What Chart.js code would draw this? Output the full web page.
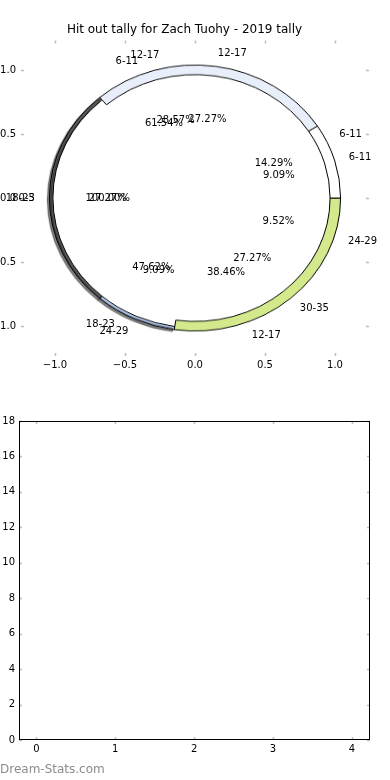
<!DOCTYPE html>
<html>
<head>
<meta charset="utf-8">
<script src="https://cdn.jsdelivr.net/npm/chart.js@4.4.0/dist/chart.umd.min.js"></script>
<style>
  body { margin: 0; background: #fff; width: 390px; height: 780px; overflow: hidden; position: relative; }
  #pieChart { position: absolute; left: 0; top: 0; z-index: 2; }
  #ringWrap { position: absolute; z-index: 1; transform-origin: 50% 50%; }
  #ringWrap canvas { position: absolute; left: 0; top: 0; }
  #barChart { position: absolute; left: 0; top: 390px; }
  #credit { position: absolute; left: 0; top: 762px; font: 12px "DejaVu Sans"; color: #8c8c8c; }
</style>
</head>
<body>
<canvas id="pieChart" width="390" height="390"></canvas>
<div id="ringWrap">
  <canvas id="ringLow"></canvas>
  <canvas id="ringTop"></canvas>
</div>
<canvas id="barChart" width="390" height="390"></canvas>
<div id="credit">Dream-Stats.com</div>

<script>
const chartTitle = "Hit out tally for Zach Tuohy - 2019 tally";

// pies drawn on top of each other (minute ranges -> hit outs)
const pieLabels1 = ["6-11", "12-17", "18-23", "24-29", "30-35"];
const pieValues1 = [1, 3, 3, 1, 3];
const pieLabels2 = ["6-11", "12-17", "18-23", "24-29"];
const pieValues2 = [3, 6, 10, 2];
const pieLabels3 = ["6-11", "12-17"];
const pieValues3 = [8, 5];
const pieLabels4 = ["0-5"];
const pieValues4 = [1];

const pieXTicks = [-1, -0.5, 0, 0.5, 1];
const pieYTicks = [-1, -0.5, 0, 0.5, 1];

const barCategories = [0, 1, 2, 3, 4];
const barValues = [0, 0, 0, 0, 0];
const barYTicks = [0, 2, 4, 6, 8, 10, 12, 14, 16, 18];

// styles
const sliceColors = ["#ffffff", "#e8effb", "#5a5a5a", "#b3cbee", "#d3e98c"];
const thinSlices = ["18-23", "24-29"];
const PIE_R = 1.04, PCT_DIST = 0.6, LABEL_DIST = 1.1;

Chart.defaults.font.family = '"DejaVu Sans"';
Chart.defaults.font.size = 10;
Chart.defaults.color = "#000";

const pies = [
  { labels: pieLabels1, values: pieValues1 },
  { labels: pieLabels2, values: pieValues2 },
  { labels: pieLabels3, values: pieValues3 },
  { labels: pieLabels4, values: pieValues4 }
];

function wedgeAngles(values) {
  const total = values.reduce((a, b) => a + b, 0);
  let acc = 0;
  return values.map((v) => {
    const a0 = (acc / total) * 360;
    acc += v;
    const a1 = (acc / total) * 360;
    return { mid: (a0 + a1) / 2, pct: (v / total) * 100 };
  });
}

function fmtTick(v) {
  return (v < 0 ? "\u2212" : "") + Math.abs(v).toFixed(1);
}

// matplotlib style ticks pointing into the axes on all four sides
const innerTicks = {
  id: "innerTicks",
  afterDraw(chart, args, opts) {
    const { ctx, chartArea: a } = chart;
    const x = chart.scales.x;
    const y = chart.scales.y;
    const len = opts.len || 3;
    ctx.save();
    ctx.strokeStyle = "#bdbdbd";
    ctx.lineWidth = 1.5;
    ctx.beginPath();
    x.ticks.forEach((t) => {
      const px = Math.round(x.getPixelForValue(t.value)) + 0.5;
      ctx.moveTo(px, a.top); ctx.lineTo(px, a.top + len);
      ctx.moveTo(px, a.bottom); ctx.lineTo(px, a.bottom - len);
    });
    y.ticks.forEach((t) => {
      const py = Math.round(y.getPixelForValue(t.value)) + 0.5;
      ctx.moveTo(a.left, py); ctx.lineTo(a.left + len, py);
      ctx.moveTo(a.right, py); ctx.lineTo(a.right - len, py);
    });
    ctx.stroke();
    if (opts.frame) {
      ctx.strokeStyle = "#000";
      ctx.lineWidth = 1;
      ctx.strokeRect(Math.round(a.left) + 0.5, Math.round(a.top) + 0.5,
        Math.round(a.width) - 1, Math.round(a.height) - 1);
    }
    ctx.restore();
  }
};

const pieText = {
  id: "pieText",
  afterDraw(chart) {
    const { ctx } = chart;
    const x = chart.scales.x;
    const y = chart.scales.y;
    ctx.save();
    ctx.font = '10px "DejaVu Sans"';
    ctx.fillStyle = "#000";
    ctx.textBaseline = "middle";
    pies.forEach((p) => {
      wedgeAngles(p.values).forEach((w, i) => {
        const t = (w.mid * Math.PI) / 180;
        const c = Math.cos(t), s = Math.sin(t);
        const lx = LABEL_DIST * PIE_R * c, ly = LABEL_DIST * PIE_R * s;
        ctx.textAlign = lx > 0 ? "left" : "right";
        ctx.fillText(p.labels[i], x.getPixelForValue(lx), y.getPixelForValue(ly));
        ctx.textAlign = "center";
        ctx.fillText(w.pct.toFixed(2) + "%",
          x.getPixelForValue(PCT_DIST * PIE_R * c), y.getPixelForValue(PCT_DIST * PIE_R * s));
      });
    });
    ctx.restore();
  }
};

const ringShadow = {
  id: "ringShadow",
  beforeDatasetsDraw(chart, args, opts) {
    const c = chart.ctx;
    c.save();
    if (opts.on) {
      c.shadowColor = "rgba(0,0,0,0.5)";
      c.shadowOffsetX = -2;
      c.shadowOffsetY = 2;
      c.shadowBlur = 1;
    }
  },
  afterDatasetsDraw(chart) {
    chart.ctx.restore();
  }
};

function axisOpts(min, max, ticks, fmt, fitFn, pad) {
  return {
    type: "linear",
    min: min,
    max: max,
    offset: false,
    grid: { display: false, drawTicks: false, offset: false },
    border: { display: false },
    afterBuildTicks: (s) => { s.ticks = ticks.map((v) => ({ value: v })); },
    afterFit: fitFn,
    ticks: { padding: pad, autoSkip: false, maxRotation: 0, callback: fmt }
  };
}

const pieChart = new Chart(document.getElementById("pieChart"), {
  type: "scatter",
  data: { datasets: [] },
  options: {
    responsive: false,
    animation: false,
    events: [],
    layout: { padding: { top: 23, right: 21, bottom: 14, left: 0 } },
    scales: {
      x: axisOpts(-1.243, 1.243, pieXTicks, fmtTick, (s) => { s.height = 20; }, 3),
      y: axisOpts(-1.234, 1.234, pieYTicks, fmtTick, (s) => { s.width = 21; }, 5)
    },
    plugins: {
      legend: { display: false },
      tooltip: { enabled: false },
      title: {
        display: true,
        text: chartTitle,
        font: { size: 12, weight: "normal" },
        color: "#000",
        padding: { top: 0, bottom: 3 }
      },
      innerTicks: { len: 3, frame: false }
    }
  },
  plugins: [innerTicks, pieText]
});

// place the ring over the data area of the top axes
const xs = pieChart.scales.x;
const ys = pieChart.scales.y;
const unitX = xs.getPixelForValue(1) - xs.getPixelForValue(0);
const unitY = ys.getPixelForValue(0) - ys.getPixelForValue(1);
const side = Math.round(2.2 * unitX);
const wrap = document.getElementById("ringWrap");
wrap.style.width = side + "px";
wrap.style.height = side + "px";
wrap.style.left = (xs.getPixelForValue(0) - side / 2) + "px";
wrap.style.top = (ys.getPixelForValue(0) - side / 2) + "px";
wrap.style.transform = "scaleY(" + (unitY / unitX) + ")";

function makeRing(id, useSlice, rIn, rOut, shadow) {
  const cv = document.getElementById(id);
  cv.width = side;
  cv.height = side;
  const order = pieValues1.map((v, i) => i).reverse();
  return new Chart(cv, {
    type: "doughnut",
    data: {
      labels: order.map((i) => pieLabels1[i]),
      datasets: [{
        data: order.map((i) => pieValues1[i]),
        backgroundColor: order.map((i) => useSlice(i) ? sliceColors[i] : "rgba(0,0,0,0)"),
        borderColor: order.map((i) => useSlice(i) ? "#000" : "rgba(0,0,0,0)"),
        borderWidth: order.map((i) => useSlice(i) ? 1 : 0)
      }]
    },
    options: {
      responsive: false,
      animation: false,
      events: [],
      rotation: 90,
      radius: rOut * unitX,
      cutout: (rIn / rOut) * 100 + "%",
      layout: { padding: 0 },
      plugins: { legend: { display: false }, tooltip: { enabled: false }, ringShadow: { on: shadow } }
    },
    plugins: [ringShadow]
  });
}

makeRing("ringLow", (i) => thinSlices.includes(pieLabels1[i]), 1.015, PIE_R, true);
makeRing("ringTop", (i) => !thinSlices.includes(pieLabels1[i]), 0.965, PIE_R, false);

new Chart(document.getElementById("barChart"), {
  type: "bar",
  data: {
    datasets: [{
      data: barCategories.map((c, i) => ({ x: c, y: barValues[i] })),
      backgroundColor: "#4a7ebb",
      borderWidth: 0
    }]
  },
  options: {
    responsive: false,
    animation: false,
    events: [],
    layout: { padding: { top: 31, right: 20, bottom: 20, left: 0 } },
    scales: {
      x: axisOpts(-0.22, 4.23, barCategories, (v) => String(v), (s) => { s.height = 20; }, 3),
      y: axisOpts(0, 18, barYTicks, (v) => String(v), (s) => { s.width = 19; }, 4)
    },
    plugins: {
      legend: { display: false },
      tooltip: { enabled: false },
      innerTicks: { len: 3, frame: true }
    }
  },
  plugins: [innerTicks]
});
</script>
</body>
</html>
